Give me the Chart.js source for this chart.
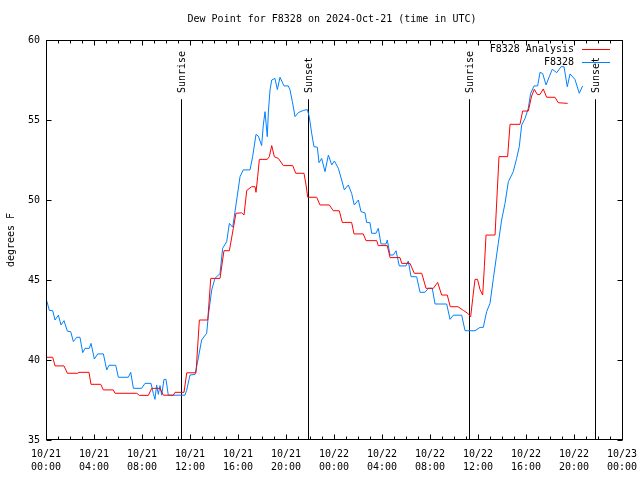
<!DOCTYPE html>
<html><head><meta charset="utf-8">
<script src="https://cdn.jsdelivr.net/npm/chart.js@4"></script>
<style>html,body{margin:0;padding:0;background:#fff}canvas{display:block}</style>
</head><body>
<canvas id="c" width="640" height="480"></canvas>
<script>
/* DATA - hours since 10/21 00:00 UTC, dew point in F */
const seriesNames=['F8328 Analysis','F8328']
const seriesColors=['#ff0000','#0080ff']

const redH=[0.06,0.56,0.75,1.5,1.78,2.64,2.75,3.58,3.75,4.56,4.78,5.61,5.75,7.56,7.78,8.53,8.81,9.5,9.78,10.61,10.75,11.5,11.73,12.5,12.78,13.48,13.73,14.5,14.83,15.28,15.61,15.83,16.31,16.5,16.73,17.14,17.42,17.5,17.64,17.78,18.44,18.61,18.81,19.03,19.36,19.78,20.56,20.81,21.5,21.67,21.81,22.56,22.83,23.61,23.94,24.44,24.69,25.47,25.67,26.44,26.67,27.56,27.69,28.44,28.67,29.5,29.64,30.33,30.69,31.31,31.67,32.28,32.64,32.97,33.44,33.69,34.33,34.78,35.14,35.39,35.56,35.75,35.96,36.17,36.39,36.53,36.67,37.42,37.61,37.75,38.47,38.67,39.5,39.72,40.19,40.47,40.69,40.94,41.17,41.44,41.72,42.42,42.69,43.47]
const redV=[40.17,40.17,39.63,39.63,39.17,39.17,39.23,39.23,38.48,38.48,38.13,38.13,37.92,37.92,37.79,37.79,38.23,38.23,37.8,37.8,37.98,37.98,39.2,39.2,42.5,42.5,45.1,45.1,46.83,46.83,48.23,49.17,49.2,49.06,50.6,50.83,50.83,50.48,51.46,52.54,52.54,52.71,53.4,52.7,52.6,52.15,52.15,51.67,51.67,50.94,50.17,50.17,49.69,49.69,49.33,49.33,48.6,48.6,47.88,47.88,47.46,47.46,47.15,47.15,46.4,46.4,46.04,46.04,45.42,45.42,44.48,44.48,44.85,44.06,44.06,43.33,43.33,43.1,42.92,42.71,43.85,45.04,45.04,44.4,44.06,45.83,47.81,47.81,50.63,52.71,52.71,54.73,54.73,55.56,55.56,56.5,56.92,56.6,56.6,56.94,56.42,56.42,56.08,56.04]

const blueH=[0.06,0.28,0.56,0.75,1.03,1.25,1.5,1.78,2.06,2.28,2.56,2.83,3.06,3.25,3.61,3.75,4.03,4.31,4.78,5.06,5.25,5.81,6.03,6.86,7.06,7.28,7.97,8.25,8.75,8.94,9.08,9.22,9.36,9.5,9.64,9.83,10.0,10.19,11.58,11.72,11.94,12.0,12.42,12.61,12.97,13.39,13.53,13.81,14.08,14.5,14.72,15.06,15.28,15.56,15.89,16.17,16.44,17.0,17.22,17.5,17.69,17.97,18.11,18.25,18.44,18.53,18.67,18.81,19.08,19.28,19.5,19.83,20.19,20.33,20.53,20.75,21.03,21.44,21.78,21.94,22.14,22.33,22.61,22.75,22.97,23.25,23.53,23.81,24.03,24.36,24.64,24.86,25.19,25.47,25.69,26.03,26.25,26.58,26.72,27.0,27.14,27.5,27.69,27.92,28.33,28.44,28.67,28.94,29.17,29.44,30.0,30.19,30.42,30.89,31.17,31.58,31.86,32.19,32.42,33.39,33.67,33.94,34.64,34.92,35.75,36.17,36.44,36.72,37.0,37.28,37.69,37.97,38.25,38.53,38.94,39.22,39.44,39.64,39.92,40.19,40.39,40.67,40.97,41.17,41.39,41.67,41.94,42.19,42.56,42.92,43.17,43.44,43.67,44.08,44.44,44.72]
const blueV=[43.7,43.1,43.08,42.5,42.8,42.19,42.46,41.8,41.77,41.15,41.42,41.42,40.46,40.73,40.73,41.04,40.06,40.38,40.38,39.38,39.67,39.67,38.92,38.92,39.23,38.23,38.23,38.54,38.54,37.92,37.54,38.44,37.85,38.4,37.8,38.79,38.79,37.8,37.8,38.1,38.85,39.06,39.1,39.79,41.25,41.67,42.8,44.38,45.1,45.4,46.98,47.4,48.54,48.3,50.0,51.46,51.88,51.88,52.71,54.1,54.0,53.4,54.69,55.52,53.96,55.5,56.88,57.5,57.6,56.9,57.67,57.13,57.13,56.9,56.15,55.21,55.46,55.6,55.65,55.2,54.17,53.33,53.3,52.33,52.6,51.77,52.81,52.19,52.44,51.98,51.25,50.63,50.94,50.42,49.69,50.0,49.27,49.2,48.6,48.58,47.92,47.92,48.23,47.25,47.25,47.5,46.56,46.56,46.83,45.88,45.88,46.19,45.21,45.2,44.23,44.23,44.48,44.48,43.5,43.5,42.54,42.8,42.8,41.83,41.83,42.04,42.04,43.02,43.54,45.1,47.29,48.75,49.79,51.15,51.77,52.6,53.33,54.69,55.1,55.73,56.67,57.13,57.13,57.98,57.9,57.19,57.71,58.17,57.96,58.33,58.33,57.08,57.88,57.54,56.67,57.13]

const sunLabels=['Sunrise','Sunset','Sunrise','Sunset']
const sunH=[11.25,21.85,35.27,45.78]

const xTickH=[0,4,8,12,16,20,24,28,32,36,40,44,48]
const xTickLabels=[['10/21','00:00'],['10/21','04:00'],['10/21','08:00'],['10/21','12:00'],['10/21','16:00'],['10/21','20:00'],['10/22','00:00'],['10/22','04:00'],['10/22','08:00'],['10/22','12:00'],['10/22','16:00'],['10/22','20:00'],['10/23','00:00']]
const yTicks=[35,40,45,50,55,60]

const FONT="10px 'DejaVu Sans Mono'"

/* DECORATION (frame, ticks, text) */
const deco={
id:'deco',
beforeDatasetsDraw(chart){
let {ctx,chartArea:a,scales:{x,y}}=chart
ctx.save()
ctx.strokeStyle='#000';ctx.lineWidth=1;ctx.fillStyle='#000';ctx.font=FONT
sunH.forEach((h,i)=>{
let px=Math.round(x.getPixelForValue(h))+0.5
ctx.beginPath();ctx.moveTo(px,y.getPixelForValue(56.3));ctx.lineTo(px,a.bottom);ctx.stroke()
ctx.save();ctx.translate(px+1,93);ctx.rotate(-Math.PI/2)
ctx.textAlign='left';ctx.textBaseline='middle';ctx.fillText(sunLabels[i],0,0)
ctx.restore()
})
ctx.restore()
},
afterDraw(chart){
let {ctx,chartArea:a,scales:{x,y}}=chart
ctx.save()
ctx.strokeStyle='#000';ctx.lineWidth=1;ctx.fillStyle='#000';ctx.font=FONT
let L=Math.round(a.left)+0.5,R=Math.round(a.right)+0.5,T=Math.round(a.top)+0.5,B=Math.round(a.bottom)-0.5
ctx.strokeRect(L,T,R-L,B-T)
ctx.beginPath()
// x ticks every hour, longer every 4h, on bottom and top
for(let h=0;h<=48;h++){
let px=Math.round(x.getPixelForValue(h))+0.5
let len=h%4==0?5:3
ctx.moveTo(px,B);ctx.lineTo(px,B-len)
ctx.moveTo(px,T);ctx.lineTo(px,T+len)
}
yTicks.forEach(v=>{
let py=Math.round(y.getPixelForValue(v))+0.5
ctx.moveTo(L,py);ctx.lineTo(L+5,py)
ctx.moveTo(R,py);ctx.lineTo(R-5,py)
})
ctx.stroke()
// tick labels
ctx.textAlign='right';ctx.textBaseline='middle'
yTicks.forEach(v=>ctx.fillText(String(v),40,y.getPixelForValue(v)))
ctx.textAlign='center'
xTickH.forEach((h,i)=>{
let px=x.getPixelForValue(h)
ctx.fillText(xTickLabels[i][0],px,454)
ctx.fillText(xTickLabels[i][1],px,467)
})
// title
ctx.fillText('Dew Point for F8328 on 2024-Oct-21 (time in UTC)',332,19)
// y axis title
ctx.save();ctx.translate(11,240);ctx.rotate(-Math.PI/2);ctx.fillText('degrees F',0,0);ctx.restore()
// legend
ctx.textAlign='right'
seriesNames.forEach((n,i)=>{
let ly=49+i*13
ctx.fillStyle='#000';ctx.fillText(n,574,ly)
ctx.strokeStyle=seriesColors[i]
ctx.beginPath();ctx.moveTo(582,ly+0.5);ctx.lineTo(610,ly+0.5);ctx.stroke()
})
ctx.restore()
}
}

/* CHART */
const toPts=(hs,vs)=>hs.map((h,i)=>({x:h,y:vs[i]}))
new Chart(document.getElementById('c'),{
type:'line',
data:{datasets:[
{label:seriesNames[0],data:toPts(redH,redV),borderColor:seriesColors[0],borderWidth:1,pointRadius:0,tension:0,fill:false},
{label:seriesNames[1],data:toPts(blueH,blueV),borderColor:seriesColors[1],borderWidth:1,pointRadius:0,tension:0,fill:false}
]},
options:{
responsive:false,animation:false,devicePixelRatio:1,
layout:{padding:{left:46,right:18,top:40,bottom:40}},
plugins:{legend:{display:false},tooltip:{enabled:false}},
scales:{
x:{type:'linear',min:0,max:48,display:false},
y:{min:35,max:60,display:false}
}
},
plugins:[deco]
})
</script>
</body></html>
